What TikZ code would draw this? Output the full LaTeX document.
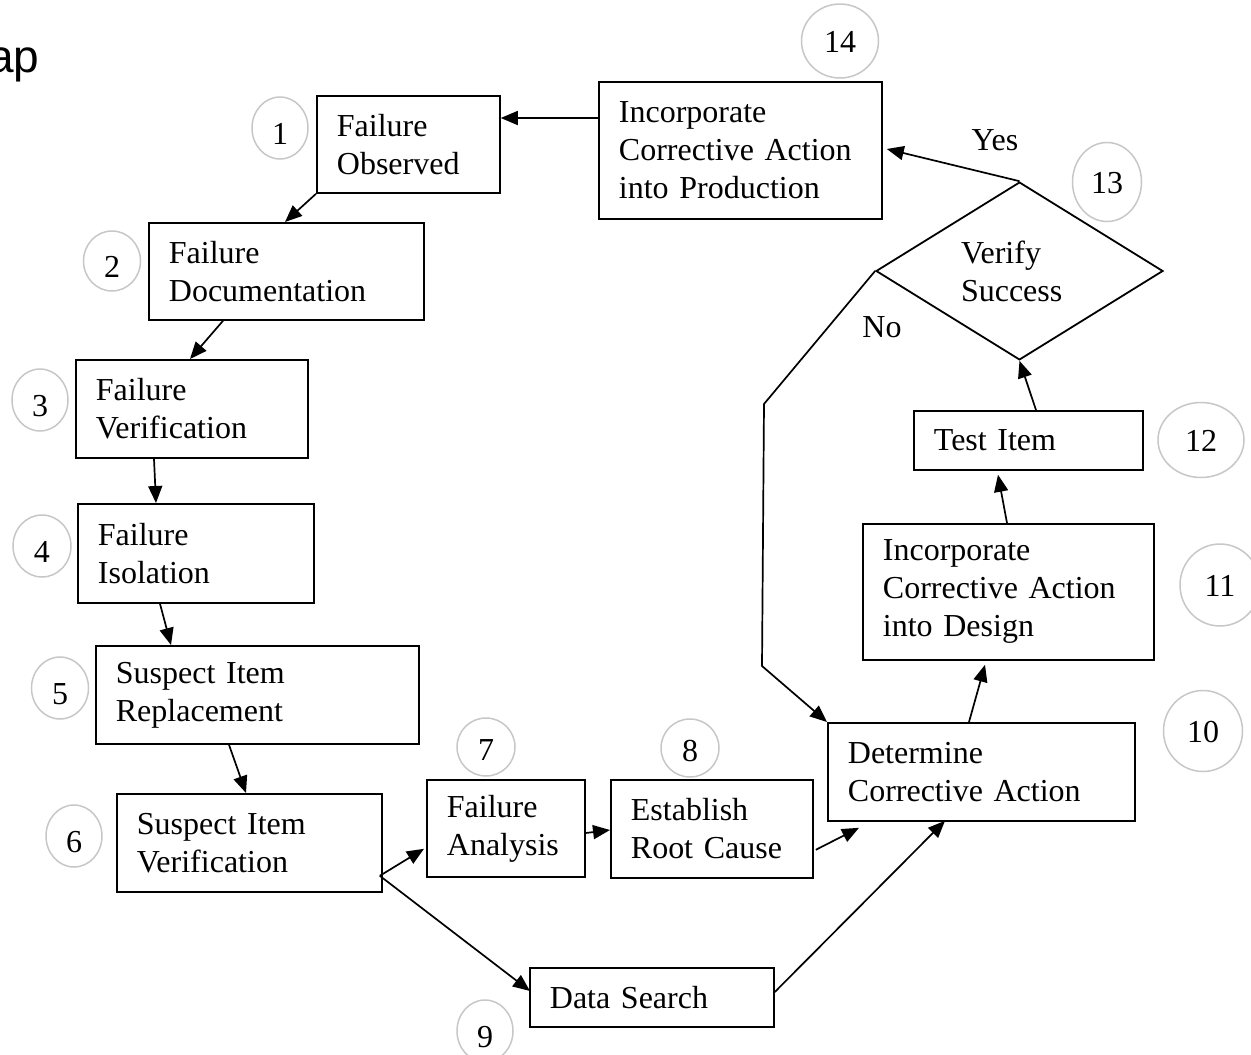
\documentclass[tikz,border=0pt]{standalone}
\usepackage{fontspec}
\setmainfont{Liberation Serif}
\newfontfamily\apfont{Liberation Sans}
\usetikzlibrary{arrows.meta,shapes.geometric,calc}
\begin{document}
\begin{tikzpicture}[x=1pt,y=-1pt,
  every node/.style={font=\fontsize{32}{38}\selectfont},
  box/.style={draw, line width=1.8pt, rectangle, align=left, anchor=north west, inner xsep=20pt, inner ysep=0pt},
  numc/.style={draw=black!22, line width=1.5pt, ellipse, inner sep=0pt, text height=22pt, text depth=0pt},
  low/.style={text height=33pt},
  arr/.style={line width=1.7pt, -{Triangle[length=17pt,width=14pt]}}
]
\clip (0,0) rectangle (1251,1055);

\node[anchor=base east, font=\apfont\fontsize{46}{50}\selectfont] (ap) at (43,72) {ap};

% boxes
\node[box, text width=143, minimum height=97] (n1) at (316,95) {Failure\\Observed};
\node[box, text width=235, minimum height=97] (n2) at (148,222) {Failure\\Documentation};
\node[box, text width=192, minimum height=98] (n3) at (75,359) {Failure\\Verification};
\node[box, text width=196, minimum height=99] (n4) at (77,503) {Failure\\Isolation};
\node[box, text width=283, minimum height=98] (n5) at (95,645) {Suspect Item\\Replacement};
\node[box, text width=225, minimum height=98] (n6) at (116,793) {Suspect Item\\Verification};
\node[box, text width=118, minimum height=97] (n7) at (426,779) {Failure\\Analysis};
\node[box, text width=162, minimum height=98] (n8) at (610,779) {Establish\\Root Cause};
\node[box, text width=204, minimum height=59] (n9) at (529,967) {Data Search};
\node[box, text width=267, minimum height=98] (n10) at (827,722) {Determine\\Corrective Action};
\node[box, text width=251, minimum height=136] (n11) at (862,523) {Incorporate\\Corrective Action\\into Design};
\node[box, text width=189, minimum height=59] (n12) at (913,410) {Test Item};
\node[box, text width=243, minimum height=137] (n14) at (598,81) {Incorporate\\Corrective Action\\into Production};
\node[draw, line width=1.8pt, diamond, inner sep=0pt, minimum width=287, minimum height=173, text width=117, align=left] (d13) at (1019.5,271) {Verify\\Success};

% number circles
\node[numc, low, minimum width=56, minimum height=62] (c1) at (280,128) {1};
\node[numc, low, minimum width=57, minimum height=60] (c2) at (112,261) {2};
\node[numc, low, minimum width=56, minimum height=62] (c3) at (40,400) {3};
\node[numc, low, minimum width=58, minimum height=62] (c4) at (42,546) {4};
\node[numc, low, minimum width=57, minimum height=62] (c5) at (60,688) {5};
\node[numc, low, minimum width=56, minimum height=62] (c6) at (74,836) {6};
\node[numc, text height=27pt, minimum width=58, minimum height=58] (c7) at (486,747) {7};
\node[numc, text height=27pt, minimum width=58, minimum height=58] (c8) at (690,748) {8};
\node[numc, low, minimum width=56, minimum height=62] (c9) at (485,1031) {9};
\node[numc, minimum width=79, minimum height=81] (c10) at (1203,731) {10};
\node[numc, minimum width=80, minimum height=82] (c11) at (1220,585) {11};
\node[numc, minimum width=86, minimum height=75] (c12) at (1201,440) {12};
\node[numc, minimum width=69, minimum height=79] (c13) at (1107,182) {13};
\node[numc, minimum width=77, minimum height=74] (c14) at (840,41) {14};

% labels
\node (yes) at (995,140) {Yes};
\node (no) at (882,327) {No};

% connectors
\draw[arr] ($(n14.north west)+(0,37)$) -- ($(n1.north east)+(0,23)$);
\draw[arr] (n1.south west) -- ($(n2.north west)+(137,0)$);
\draw[arr] ($(n2.south west)+(75,0)$) -- ($(n3.north west)+(115,0)$);
\draw[arr] ($(n3.south west)+(79,0)$) -- ($(n4.north west)+(79,0)$);
\draw[arr] ($(n4.south west)+(83,0)$) -- ($(n5.north west)+(76,0)$);
\draw[arr] ($(n5.south west)+(134,0)$) -- ($(n6.north west)+(130,0)$);
\coordinate (s6) at ($(n6.south east)+(-3,-17)$);
\draw[arr] (s6) -- ($(n7.south west)+(-2,-29)$);
\draw[arr] (s6) -- ($(n9.north west)+(1,24)$);
\draw[arr] ($(n7.north east)+(0,54)$) -- ($(n8.north west)+(0,51)$);
\draw[arr] ($(n8.south east)+(2,-29)$) -- ($(n10.south west)+(32,6)$);
\draw[arr] ($(n9.north east)+(0,25)$) -- ($(n10.south west)+(118,-1)$);
\draw[arr] ($(n10.north west)+(142,0)$) -- ($(n11.south west)+(123,4)$);
\draw[arr] ($(n11.north west)+(145,0)$) -- ($(n12.south west)+(85,4)$);
\draw[arr] ($(n12.north west)+(123,0)$) -- (d13.south);
\draw[arr] (d13.north) -- ($(n14.north east)+(4,68)$);
\coordinate (b1) at (764,404);
\coordinate (b2) at (762,666);
\draw[arr] (d13.west) -- (b1) -- (b2) -- (n10.north west);
\end{tikzpicture}
\end{document}
